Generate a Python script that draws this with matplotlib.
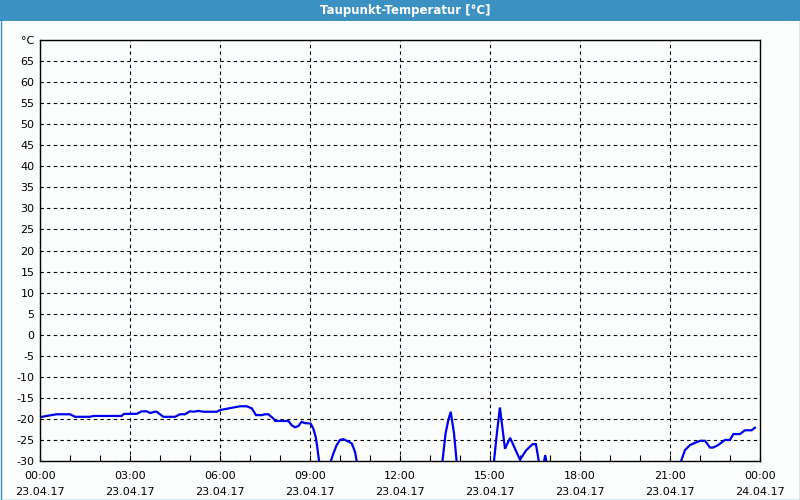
import numpy as np
import matplotlib
matplotlib.use("Agg")
from matplotlib import pyplot as plt
from matplotlib.patches import Rectangle

nan = np.nan

# hours since 23.04.17 00:00, dew point in degC (values < -30 are off the chart)
hours = [0, 0.22, 0.55, 1.0, 1.17, 1.67, 1.78, 2.72, 2.8, 3.22, 3.39, 3.56, 3.67,
         3.83, 3.89, 4.11, 4.5, 4.67, 4.83, 5.0, 5.11, 5.28, 5.44, 5.89, 6.0, 6.22,
         6.44, 6.67, 6.89, 7.06, 7.2, 7.39, 7.5, 7.61, 7.78, 7.84, 8.28, 8.39, 8.5,
         8.61, 8.72, 8.83, 9.02, 9.11, 9.19, 9.24, 9.32,
         9.5,
         9.65, 9.78, 9.89, 10.0, 10.11, 10.28, 10.39, 10.5, 10.58,
         12.0,
         13.4, 13.52, 13.61, 13.69, 13.8, 13.9,
         14.5,
         15.12, 15.22, 15.33, 15.5, 15.67, 16.0, 16.2, 16.42, 16.53, 16.65, 16.78,
         16.84, 16.9,
         19.0,
         21.32, 21.5, 21.67, 21.83, 22.0, 22.17, 22.33, 22.44, 22.61, 22.83, 23.0,
         23.11, 23.33, 23.5, 23.72, 23.83]
dewpoint = [-19.6, -19.3, -18.9, -18.9, -19.5, -19.5, -19.3, -19.3, -18.8, -18.8,
            -18.2, -18.2, -18.6, -18.3, -18.3, -19.5, -19.5, -18.9, -18.9, -18.2,
            -18.3, -18.1, -18.3, -18.3, -17.9, -17.6, -17.3, -17.0, -17.0, -17.5,
            -19.1, -19.1, -18.9, -18.9, -19.9, -20.5, -20.5, -21.5, -22.0, -21.7,
            -20.7, -21.0, -21.1, -22.3, -24.3, -26.6, -31,
            nan,
            -31, -28.2, -26.2, -25.0, -24.8, -25.4, -25.8, -27.8, -31,
            nan,
            -31, -23.4, -20.3, -18.3, -23.4, -31,
            nan,
            -31, -24.0, -17.3, -27.1, -24.5, -29.7, -27.5, -26.0, -26.0, -31, -31,
            -28.6, -31,
            nan,
            -31, -27.4, -26.2, -25.7, -25.2, -25.2, -26.8, -26.8, -26.2, -25.0, -25.0,
            -23.6, -23.6, -22.7, -22.7, -22.1]

xtick_hours = list(range(0, 25, 3))
xtick_labels = ["00:00\n23.04.17", "03:00\n23.04.17", "06:00\n23.04.17",
                "09:00\n23.04.17", "12:00\n23.04.17", "15:00\n23.04.17",
                "18:00\n23.04.17", "21:00\n23.04.17", "00:00\n24.04.17"]
yticks = list(range(-30, 75, 5))
ytick_labels = [str(v) for v in yticks[:-1]] + ["°C"]

plt.rcParams['font.family'] = ['DejaVu Sans']

fig = plt.figure(figsize=(8, 5), dpi=100, facecolor='#fcfefd')
W, H = 800, 500

# title bar
fig.patches.append(Rectangle((0, 1 - 21 / H), 1, 21 / H, transform=fig.transFigure,
                             facecolor='#3c91c3', edgecolor='none', zorder=0))
fig.text(405 / W, 1 - 10.5 / H, "Taupunkt-Temperatur [°C]", color='white',
         fontsize=8.5, fontweight='bold', ha='center', va='center')
# window border
fig.patches.append(Rectangle((0.5 / W, 0.5 / H), 1 - 1 / W, 1 - 1 / H,
                             transform=fig.transFigure, facecolor='none',
                             edgecolor='#3c91c3', linewidth=1, zorder=0))

ax = fig.add_axes([40 / W, 1 - 461 / H, 720 / W, 421 / H])
ax.set_facecolor('#fcfefd')
ax.plot(hours, dewpoint, color='#0000ee', linewidth=1.6, solid_joinstyle='miter')

ax.set_xlim(0, 24)
ax.set_ylim(-30, 70)
ax.set_xticks(xtick_hours)
ax.set_xticklabels(xtick_labels, fontsize=8, linespacing=1.75)
ax.set_xticks(range(0, 25), minor=True)
ax.set_yticks(yticks)
ax.set_yticklabels(ytick_labels, fontsize=8)

ax.grid(True, which='major', color='black', linestyle=(0, (3, 3)), linewidth=0.8)
ax.tick_params(axis='x', which='both', direction='in', length=4, width=0.8,
               top=False, pad=7)
ax.tick_params(axis='y', which='both', length=0, pad=4)
for s in ax.spines.values():
    s.set_color('black')
    s.set_linewidth(1)

fig.savefig("out.png", dpi=100, facecolor=fig.get_facecolor())
